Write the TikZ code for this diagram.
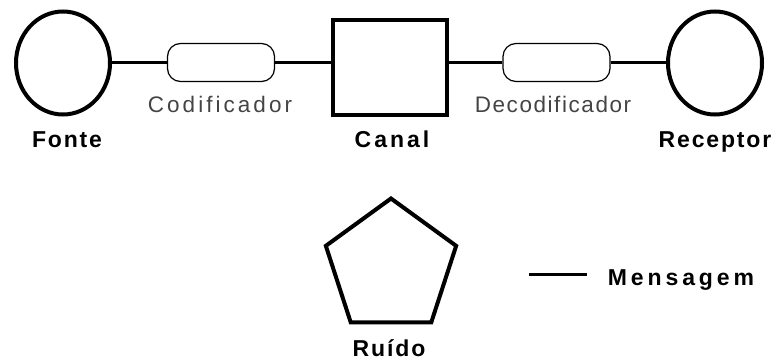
\documentclass[tikz,border=0pt]{standalone}
\usepackage{fontspec}
\setmainfont{Liberation Sans}
\usetikzlibrary{shapes.geometric,shapes.misc}
\definecolor{labgray}{HTML}{444444}
\begin{document}
\begin{tikzpicture}[x=1pt,y=-1pt,
  endpt/.style={ellipse,draw,line width=4pt,minimum width=94pt,minimum height=103pt,inner sep=0pt},
  chan/.style={rectangle,draw,line width=4pt,minimum width=114pt,minimum height=95pt,inner sep=0pt},
  coder/.style={rectangle,rounded corners=13pt,draw,line width=1.2pt,minimum width=107pt,minimum height=38pt,inner sep=0pt},
  noise/.style={regular polygon,regular polygon sides=5,draw,line width=4pt,minimum size=137pt,inner sep=0pt},
  wire/.style={line width=3pt},
  boldlab/.style={anchor=base,inner sep=0pt,font=\fontsize{23}{26}\selectfont\bfseries},
  reglab/.style={anchor=base,inner sep=0pt,text=labgray,font=\fontsize{22.5}{26}\selectfont}
]
\useasboundingbox (0,0) rectangle (784,362);
\node[endpt] (fonte) at (63,63) {};
\node[endpt] (receptor) at (715,63) {};
\node[chan] (canal) at (389.5,67.5) {};
\node[coder] (cod) at (221,62.5) {};
\node[coder] (decod) at (556.5,62.5) {};
\node[noise] (ruido) at (391,267) {};
\draw[wire] (fonte.east |- cod.west) -- (cod.west);
\draw[wire] (cod.east) -- (canal.west |- cod.east);
\draw[wire] (canal.east |- decod.west) -- (decod.west);
\draw[wire] (decod.east) -- (receptor.west |- decod.east);
\node[reglab] (codlab) at (220,112) {\addfontfeature{LetterSpace=13.5}Codificador};
\node[reglab] (decodlab) at (553,112) {\addfontfeature{LetterSpace=7}Decodificador};
\node[boldlab] (fontelab) at (67,147) {\addfontfeature{LetterSpace=8}Fonte};
\node[boldlab] (canallab) at (392,147) {\addfontfeature{LetterSpace=13}Canal};
\node[boldlab] (receptorlab) at (715,147) {\addfontfeature{LetterSpace=8}Receptor};
\node[boldlab] (ruidolab) at (389,356) {\addfontfeature{LetterSpace=8.5}Ruído};
\node[boldlab] (msglab) at (681,285) {\addfontfeature{LetterSpace=17}Mensagem};
\coordinate (m1) at (529,274);
\coordinate (m2) at (587,274);
\draw[wire] (m1) -- (m2);
\end{tikzpicture}
\end{document}
